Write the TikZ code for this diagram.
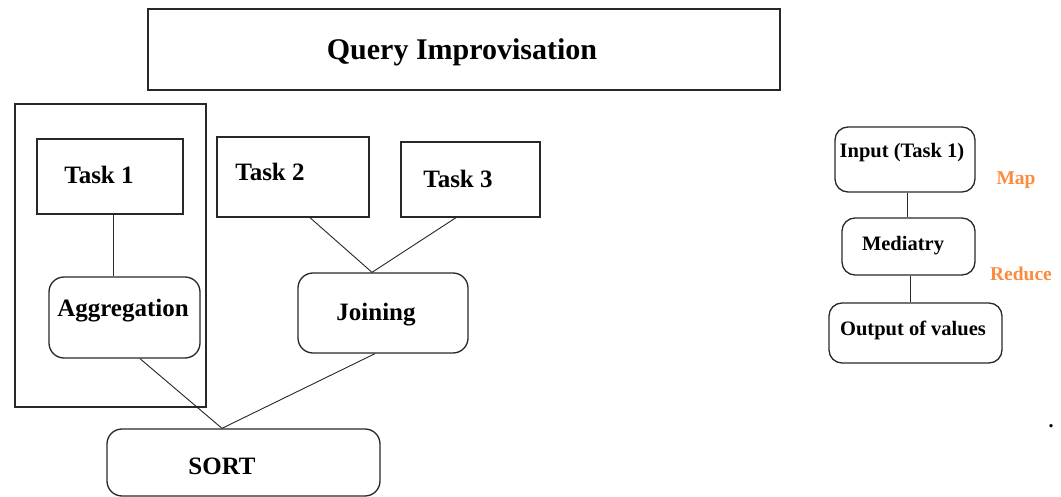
\documentclass[tikz,border=0pt]{standalone}
\usepackage{fontspec}
\setmainfont{Liberation Serif}
\usetikzlibrary{calc}
\definecolor{boxline}{RGB}{40,40,40}
\definecolor{mapor}{RGB}{250,140,60}
\tikzset{
  box/.style={draw=boxline, line width=1.3pt, inner sep=0pt, rectangle},
  rbox/.style={box, rounded corners=15pt},
  lbl/.style={inner sep=0pt, font=\bfseries\fontsize{25}{30}\selectfont},
  slbl/.style={inner sep=0pt, font=\bfseries\fontsize{20.5}{24}\selectfont},
  olbl/.style={inner sep=0pt, text=mapor, font=\bfseries\fontsize{19.5}{23}\selectfont},
  conn/.style={draw=black!85, line width=0.9pt},
}
\begin{document}
\begin{tikzpicture}[x=1pt,y=-1pt]
\useasboundingbox (0,0) rectangle (1061,497);
% boxes
\node[box, minimum width=632pt, minimum height=81pt] (title) at (464,49.5) {};
\node[inner sep=0pt, font=\bfseries\fontsize{30}{36}\selectfont] (titletxt) at (462,52) {Query Improvisation};
\node[box, minimum width=191pt, minimum height=303pt] (frame) at (110.5,255.5) {};
\node[box, minimum width=146pt, minimum height=75pt] (task1) at (110,176.5) {};
\node[lbl] (t1txt) at (99,175) {Task 1};
\node[rbox, minimum width=151pt, minimum height=81pt] (agg) at (124.5,317.5) {};
\node[lbl] (aggtxt) at (123,311) {Aggregation};
\node[box, minimum width=152pt, minimum height=80pt] (task2) at (293,177) {};
\node[lbl] (t2txt) at (270,172) {Task 2};
\node[box, minimum width=139pt, minimum height=75pt] (task3) at (470.5,179.5) {};
\node[lbl] (t3txt) at (458,179) {Task 3};
\node[rbox, minimum width=170pt, minimum height=80pt] (join) at (383,313) {};
\node[lbl] (jointxt) at (376,315) {Joining};
\node[rbox, minimum width=273pt, minimum height=67pt] (sort) at (243.5,462.5) {};
\node[lbl] (sorttxt) at (222,466) {SORT};
% right side
\node[rbox, rounded corners=13pt, minimum width=140pt, minimum height=65pt] (input) at (905,159.5) {};
\node[slbl] (inputtxt) at (902,153) {Input (Task 1)};
\node[rbox, rounded corners=13pt, minimum width=133pt, minimum height=57pt] (med) at (908.5,246.5) {};
\node[slbl] (medtxt) at (903,246) {Mediatry};
\node[rbox, rounded corners=13pt, minimum width=173pt, minimum height=60pt] (out) at (915.5,333) {};
\node[slbl] (outtxt) at (913,330) {Output of values};
\node[olbl] (map) at (1016,180) {Map};
\node[olbl] (reduce) at (1021,274) {Reduce};
\node[inner sep=0pt, font=\bfseries\fontsize{20}{24}\selectfont] (dot) at (1051,426) {.};
% connectors
\draw[conn] ($(task1.south)+(3,0)$) -- ($(agg.north)+(-11.5,0)$);
\draw[conn] ($(task2.south)+(17,0)$) -- ($(join.north)+(-11,0)$);
\draw[conn] ($(task3.south)+(-14.5,0)$) -- ($(join.north)+(-11,0)$);
\draw[conn] ($(agg.south)+(15.5,0)$) -- ($(sort.north)+(-21.5,0)$);
\draw[conn] ($(join.south)+(-8,0)$) -- ($(sort.north)+(-21.5,0)$);
\draw[conn] ($(input.south)+(2,0)$) -- ($(med.north)+(-1.5,0)$);
\draw[conn] ($(med.south)+(1.5,0)$) -- ($(out.north)+(-5.5,0)$);
\end{tikzpicture}
\end{document}
